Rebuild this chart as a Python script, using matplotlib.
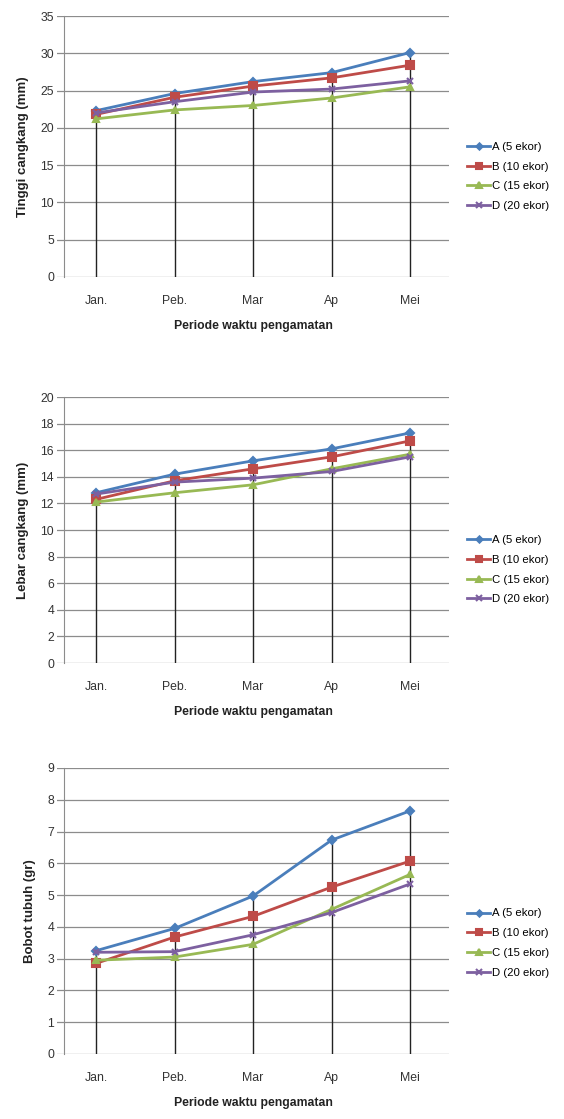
import numpy as np
import matplotlib.pyplot as plt

bulan = ['Jan.', 'Peb.', 'Mar', 'Ap', 'Mei']
kelompok = ['A (5 ekor)', 'B (10 ekor)', 'C (15 ekor)', 'D (20 ekor)']

# tinggi cangkang (mm)
tinggi_A = [22.3, 24.6, 26.2, 27.4, 30.1]
tinggi_B = [21.8, 24.1, 25.6, 26.7, 28.4]
tinggi_C = [21.2, 22.4, 23.0, 24.0, 25.5]
tinggi_D = [22.0, 23.5, 24.8, 25.2, 26.3]

# lebar cangkang (mm)
lebar_A = [12.8, 14.2, 15.2, 16.1, 17.3]
lebar_B = [12.3, 13.7, 14.6, 15.5, 16.7]
lebar_C = [12.1, 12.8, 13.4, 14.6, 15.7]
lebar_D = [12.7, 13.6, 13.9, 14.4, 15.5]

# bobot tubuh (gr)
bobot_A = [3.25, 3.95, 4.97, 6.73, 7.65]
bobot_B = [2.85, 3.68, 4.33, 5.25, 6.07]
bobot_C = [2.95, 3.05, 3.45, 4.55, 5.65]
bobot_D = [3.20, 3.22, 3.75, 4.45, 5.35]

warna = ['#4A7EBB', '#BE4B48', '#98B954', '#7D60A0']
penanda = ['D', 's', '^', 'x']
ukuran = [4, 6, 5, 5]

plt.rcParams['font.family'] = ['Liberation Sans', 'DejaVu Sans']

fig = plt.figure(figsize=(5.64, 11.19), dpi=100)

# data, judul sumbu y, batas atas, langkah, posisi axes, posisi legenda
panel = [
    ([tinggi_A, tinggi_B, tinggi_C, tinggi_D], 'Tinggi cangkang (mm)', 35, 5,
     [0.1006, 0.7525, 0.696, 0.2332], 0.385),
    ([lebar_A, lebar_B, lebar_C, lebar_D], 'Lebar cangkang (mm)', 20, 2,
     [0.1006, 0.4075, 0.696, 0.2377], 0.35),
    ([bobot_A, bobot_B, bobot_C, bobot_D], 'Bobot tubuh (gr)', 9, 1,
     [0.1006, 0.0581, 0.696, 0.2556], 0.388),
]

x = np.arange(len(bulan))

for data, ylabel, ymax, step, pos, leg_y in panel:
    ax = fig.add_axes(pos)
    for yv in np.arange(0, ymax + step, step):
        ax.axhline(yv, color='#8c8c8c', lw=0.9, zorder=1)
    # garis tegak dari sumbu ke titik tertinggi
    puncak = np.max(np.array(data), axis=0)
    ax.vlines(x, 0, puncak, color='#222222', lw=1.0, zorder=2)
    handles = []
    for seri, c, m, s, nama in zip(data, warna, penanda, ukuran, kelompok):
        h, = ax.plot(x, seri, color=c, marker=m, ms=s, lw=2.0, mew=1.5,
                     mec=c, mfc=c, label=nama, zorder=3)
        handles.append(h)
    ax.set_xlim(-0.5, 4.5)
    ax.set_ylim(0, ymax)
    ax.set_yticks(np.arange(0, ymax + step, step))
    ax.set_xticks(x)
    ax.set_xticklabels(bulan)
    for sp in ['top', 'right', 'bottom']:
        ax.spines[sp].set_visible(False)
    ax.spines['left'].set_color('#8c8c8c')
    ax.spines['left'].set_position(('data', -0.41))
    ax.tick_params(axis='x', length=0, pad=13, labelsize=8.8, labelcolor='#333333')
    ax.tick_params(axis='y', length=0, labelsize=8.8, labelcolor='#333333', pad=7)
    ax.set_ylabel(ylabel, fontsize=9.5, fontweight='bold', color='#222222', labelpad=8)
    ax.set_xlabel('Periode waktu pengamatan', fontsize=8.8, fontweight='bold',
                  color='#222222', labelpad=9)
    ax.legend(handles=handles, loc='center left', bbox_to_anchor=(1.02, leg_y),
              frameon=False, fontsize=8.2, handlelength=2.0, handletextpad=0.2,
              labelspacing=0.85, markerscale=0.8)

fig.savefig('out.png', dpi=100)
